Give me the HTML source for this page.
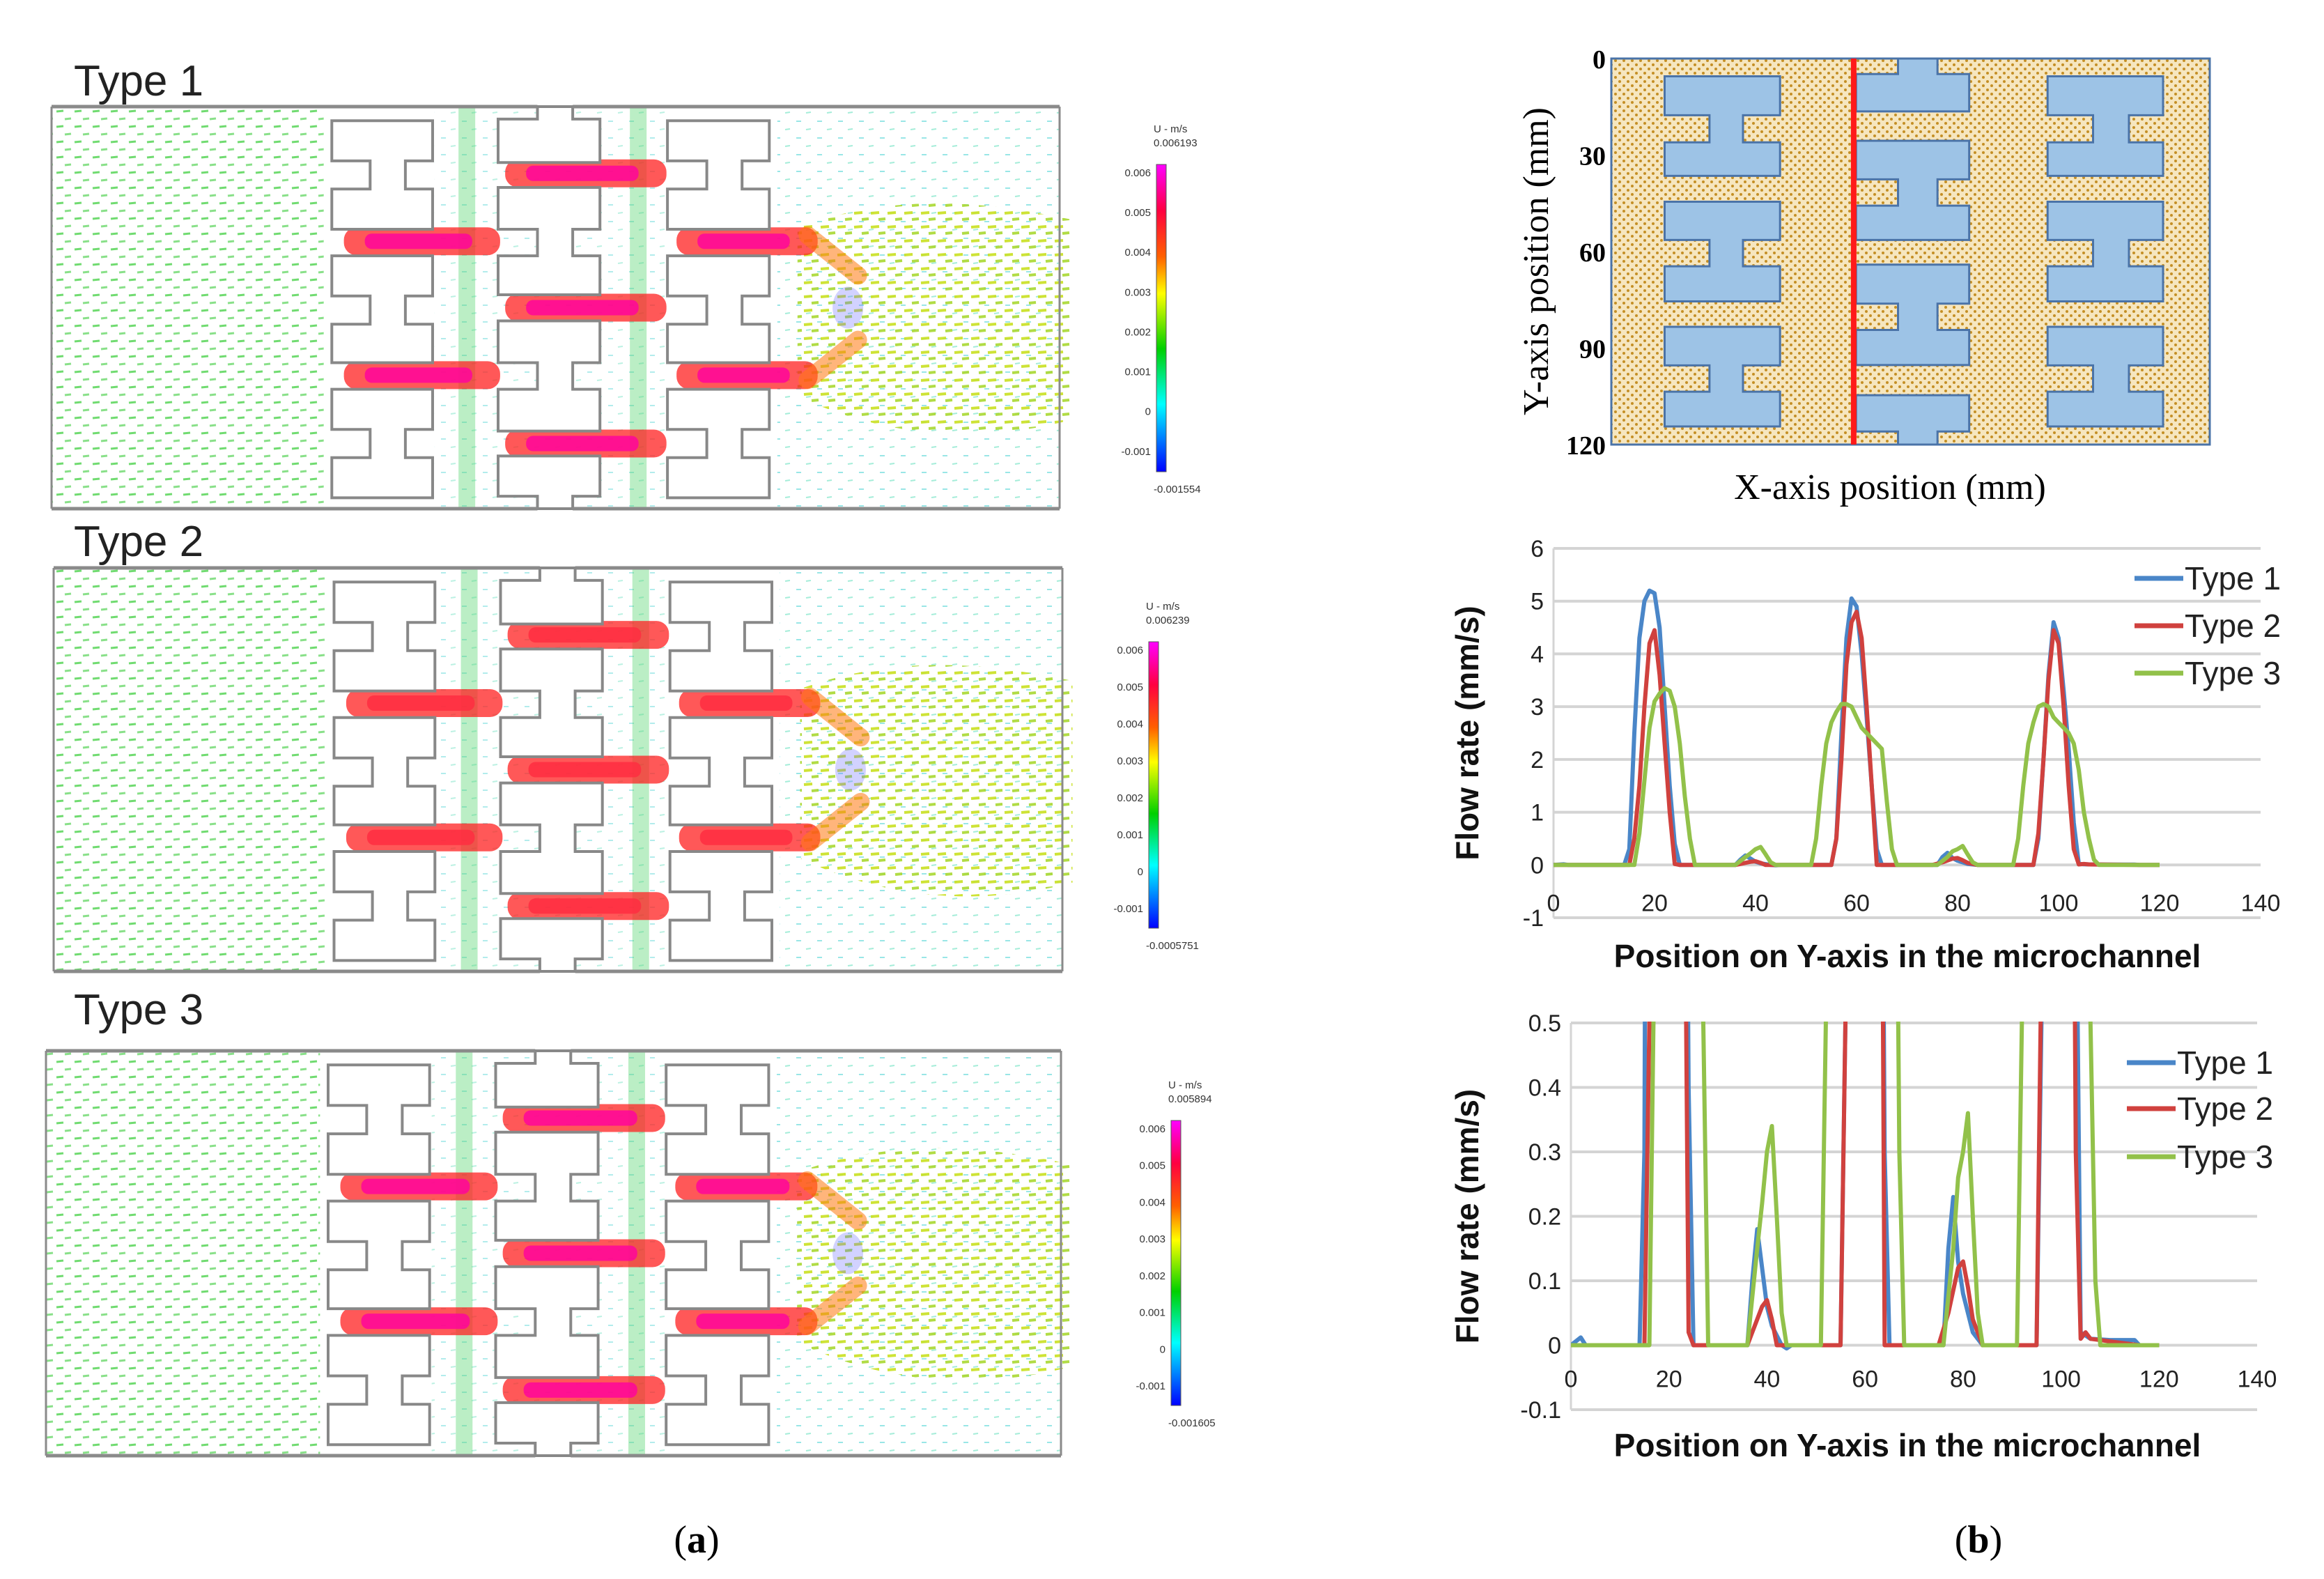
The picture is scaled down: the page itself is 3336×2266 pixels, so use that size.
<!DOCTYPE html>
<html><head><meta charset="utf-8">
<style>
html,body{margin:0;padding:0;background:#fff;}
body{width:3336px;height:2266px;position:relative;overflow:hidden;font-family:"Liberation Sans",sans-serif;}
svg{position:absolute;left:0;top:0;}
</style></head>
<body>
<svg id="root" width="3336" height="2266" viewBox="0 0 3336 2266" xmlns="http://www.w3.org/2000/svg">
<defs>
<pattern id="vec" width="26" height="22" patternUnits="userSpaceOnUse">
<line x1="3" y1="6" x2="13" y2="5" stroke="#4cd24c" stroke-width="3"/>
<line x1="15" y1="17" x2="24" y2="16" stroke="#6bd86b" stroke-width="3"/>
</pattern>
<pattern id="vecc" width="30" height="24" patternUnits="userSpaceOnUse">
<line x1="3" y1="6" x2="10" y2="6" stroke="#7fe0e0" stroke-width="2"/>
<line x1="17" y1="18" x2="24" y2="17" stroke="#8fe8d0" stroke-width="2"/>
</pattern>
<pattern id="vecy" width="24" height="20" patternUnits="userSpaceOnUse">
<line x1="2" y1="6" x2="14" y2="5" stroke="#c8e020" stroke-width="4"/>
<line x1="13" y1="15" x2="23" y2="14" stroke="#a8d830" stroke-width="4"/>
</pattern>
<pattern id="sand" width="12" height="12" patternUnits="userSpaceOnUse">
<rect width="12" height="12" fill="#f6e6bf"/>
<circle cx="3" cy="3" r="2" fill="#c48f25"/>
<circle cx="9" cy="9" r="2" fill="#c48f25"/>
</pattern>
<linearGradient id="cbar" x1="0" y1="0" x2="0" y2="1">
<stop offset="0" stop-color="#ff00ff"/><stop offset="0.15" stop-color="#ff0040"/>
<stop offset="0.3" stop-color="#ff6000"/><stop offset="0.42" stop-color="#ffff00"/>
<stop offset="0.6" stop-color="#00d000"/><stop offset="0.78" stop-color="#00ffff"/>
<stop offset="1" stop-color="#0000ff"/>
</linearGradient>
<clipPath id="clip2"><rect x="2255" y="1466" width="990" height="560"/></clipPath>
</defs>
<g id="left"></g>
<g id="schem"></g>
<g id="chart1"></g>
<g id="chart2"></g>
<text x="1000" y="2228" font-family="Liberation Serif,serif" font-size="56" text-anchor="middle">(<tspan font-weight="bold">a</tspan>)</text>
<text x="2840" y="2228" font-family="Liberation Serif,serif" font-size="56" text-anchor="middle">(<tspan font-weight="bold">b</tspan>)</text>
</svg>
<script>
const NS="http://www.w3.org/2000/svg";
function mk(parent,tag,attrs,text){const e=document.createElementNS(NS,tag);for(const k in attrs)e.setAttribute(k,attrs[k]);if(text!==undefined)e.textContent=text;parent.appendChild(e);return e;}

// ---- chart data (x = position on Y-axis, mm; y = flow rate, mm/s) ----
const xTicks=[0,20,40,60,80,100,120,140];
const yTicks1=[-1,0,1,2,3,4,5,6];
const yTicks2=[-0.1,0,0.1,0.2,0.3,0.4,0.5];
const yTickLabels2=["-0.1","0","0.1","0.2","0.3","0.4","0.5"];
const seriesNames=["Type 1","Type 2","Type 3"];
const type1X=[0,2,3,14,15,16,17,18,19,20,21,22,23,24,25,36,37,38,39,40,41,43,44,45,55,56,57,58,59,60,61,62,63,64,65,76,77,78,79,80,81,82,84,95,96,97,98,99,100,101,102,103,104,105,106,110,115,116,120];
const type1Y=[0,0.012,0,0,0.3,2.5,4.3,5.0,5.2,5.15,4.5,3.0,1.5,0.4,0,0,0.1,0.18,0.12,0.06,0.03,0,-0.005,0,0,0.5,2.5,4.3,5.05,4.9,4.0,2.8,1.5,0.3,0,0,0.15,0.23,0.13,0.08,0.05,0.02,0,0,0.5,2.0,3.6,4.6,4.3,3.3,2.2,0.8,0.02,0.015,0.01,0.008,0.008,0,0];
const type2X=[0,15,16,17,18,19,20,21,22,23,24,25,36,37,39,40,41,42,55,56,57,58,59,60,61,62,63,64,75,77,79,80,81,82,84,95,96,97,98,99,100,101,102,103,104,105,106,116,120];
const type2Y=[0,0,0.5,1.5,3.0,4.2,4.45,3.6,2.3,1.0,0.02,0,0,0.02,0.06,0.07,0.04,0,0,0.5,2.0,3.8,4.6,4.8,4.3,3.0,1.5,0,0,0.05,0.12,0.13,0.09,0.04,0,0,0.6,2.0,3.5,4.45,4.2,3.0,1.5,0.3,0.01,0.02,0.01,0,0];
const type3X=[0,16,17,18,19,20,21,22,23,24,25,26,27,28,36,38,39,40,41,42,43,44,51,52,53,54,55,56,57,58,59,60,61,62,63,64,65,66,67,68,76,78,79,80,81,82,83,84,91,92,93,94,95,96,97,98,99,100,101,102,103,104,105,106,107,108,120];
const type3Y=[0,0,0.6,1.6,2.6,3.1,3.25,3.35,3.3,3.0,2.3,1.3,0.5,0,0,0.15,0.22,0.3,0.34,0.2,0.05,0,0,0.5,1.5,2.3,2.7,2.9,3.05,3.05,3.0,2.8,2.6,2.5,2.4,2.3,2.2,1.2,0.3,0,0,0.15,0.26,0.3,0.36,0.2,0.05,0,0,0.5,1.5,2.3,2.7,3.0,3.05,3.0,2.8,2.7,2.6,2.5,2.3,1.8,1.0,0.5,0.1,0,0];
const seriesX=[type1X,type2X,type3X];
const seriesY=[type1Y,type2Y,type3Y];
const colors=["#4a86c8","#d0413e","#92c14a"];

function drawChart(g,o){
  const sx=v=>o.x0+(v-0)/(140-0)*(o.x1-o.x0);
  const sy=v=>o.yb+(v-o.ymin)/(o.ymax-o.ymin)*(o.yt-o.yb);
  o.yt_ticks.forEach((t,i)=>{
    const l=mk(g,'line',{x1:sx(0),x2:sx(140),y1:sy(t),y2:sy(t),stroke:'#d4d4d4','stroke-width':4});
    
    
    const tx=mk(g,'text',{x:sx(0)-14,y:sy(t)+12,'text-anchor':'end','font-size':34,fill:'#222'},o.yLabels[i]);
    
    
  });
  const ax=mk(g,'line',{x1:sx(0),x2:sx(0),y1:sy(o.ymin),y2:sy(o.ymax),stroke:'#d4d4d4','stroke-width':3});
  
  
  xTicks.forEach(t=>{
    const tx=mk(g,'text',{x:sx(t),y:sy(0)+o.xlabOff,'text-anchor':'middle','font-size':34,fill:'#222'},String(t));
    
    
  });
  const sg=mk(g,'g',o.clip?{'clip-path':'url(#'+o.clip+')'}:{});
  seriesNames.forEach((n,k)=>{
    const d=seriesX[k].map((x,i)=>(i?'L':'M')+sx(x).toFixed(1)+','+sy(seriesY[k][i]).toFixed(1)).join('');
    const p=mk(sg,'path',{d:d,fill:'none',stroke:colors[k],'stroke-width':6,'stroke-linejoin':'round'});
    
    
  });
  seriesNames.forEach((n,k)=>{
    const ly=o.legY[k];
    const ll=mk(g,'line',{x1:o.legX,x2:o.legX+70,y1:ly,y2:ly,stroke:colors[k],'stroke-width':7});
    
    
    const lt=mk(g,'text',{x:o.legX+72,y:ly+16,'font-size':46,fill:'#222'},n);
    
    
  });
  const yt=mk(g,'text',{x:o.ytX,y:(o.yt+o.yb)/2,'text-anchor':'middle','font-size':46,'font-weight':'bold',fill:'#111',transform:'rotate(-90 '+o.ytX+' '+((o.yt+o.yb)/2)+')','xml:space':'preserve'},'Flow  rate     (mm/s)');
  
  
  const xt=mk(g,'text',{x:o.xtX,y:o.xtY,'text-anchor':'middle','font-size':46,'font-weight':'bold',fill:'#111'},'Position on Y-axis in the microchannel');
  
  
}
drawChart(document.getElementById('chart1'),{x0:2230,x1:3245,yt:787,yb:1317,ymin:-1,ymax:6,yt_ticks:yTicks1,yLabels:yTicks1.map(String),xlabOff:66,legX:3064,legY:[830,898,966],ytX:2122,xtX:2738,xtY:1388});
drawChart(document.getElementById('chart2'),{x0:2255,x1:3240,yt:1468,yb:2023,ymin:-0.1,ymax:0.5,yt_ticks:yTicks2,yLabels:yTickLabels2,xlabOff:60,legX:3053,legY:[1525,1591,1660],ytX:2122,xtX:2738,xtY:2090,clip:'clip2'});

// ---- schematic ----
(function(){
  const g=document.getElementById('schem');
  const X0=2313,X1=3172,Y0=84,Y1=638,W=X1-X0,H=Y1-Y0;
  const r=mk(g,'rect',{x:X0,y:Y0,width:W,height:H,fill:'url(#sand)',stroke:'#4a73a8','stroke-width':3});
  
  
  function hp(x0,x1,nl,nr,y0,y1,n0,n1){return [[x0,y0],[x1,y0],[x1,n0],[nr,n0],[nr,n1],[x1,n1],[x1,y1],[x0,y1],[x0,n1],[nl,n1],[nl,n0],[x0,n0]];}
  const shapes=[];
  const rows=[[0.046,0.304,0.147,0.217],[0.371,0.629,0.470,0.538],[0.695,0.953,0.795,0.863]];
  rows.forEach(rw=>{shapes.push(hp(0.089,0.282,0.164,0.220,...rw));shapes.push(hp(0.729,0.922,0.805,0.865,...rw));});
  shapes.push([[0.479,0],[0.545,0],[0.545,0.040],[0.598,0.040],[0.598,0.137],[0.409,0.137],[0.409,0.040],[0.479,0.040]]);
  shapes.push(hp(0.409,0.598,0.479,0.545,0.213,0.470,0.313,0.381));
  shapes.push(hp(0.409,0.598,0.479,0.545,0.534,0.794,0.635,0.703));
  shapes.push([[0.409,0.872],[0.598,0.872],[0.598,0.966],[0.545,0.966],[0.545,1],[0.479,1],[0.479,0.966],[0.409,0.966]]);
  shapes.forEach(s=>{
    const p=mk(g,'polygon',{points:s.map(q=>(X0+q[0]*W).toFixed(1)+','+(Y0+q[1]*H).toFixed(1)).join(' '),fill:'#9dc3e6',stroke:'#4a73a8','stroke-width':3});
    
    
  });
  const rl=mk(g,'line',{x1:X0+0.405*W,x2:X0+0.405*W,y1:Y0,y2:Y1,stroke:'#ff1a1a','stroke-width':8});
  
  
  [0,30,60,90,120].forEach(v=>{
    const t=mk(g,'text',{x:X0-8,y:Y0+v/120*H+14,'text-anchor':'end','font-size':38,'font-weight':'bold','font-family':'Liberation Serif,serif'},String(v));
    
    
  });
  const yt=mk(g,'text',{x:2222,y:375,'text-anchor':'middle','font-size':52,'font-family':'Liberation Serif,serif',transform:'rotate(-90 2222 375)'},'Y-axis position (mm)');
  
  
  const xt=mk(g,'text',{x:2713,y:716,'text-anchor':'middle','font-size':52,'font-family':'Liberation Serif,serif'},'X-axis position (mm)');
  
  
})();

// ---- velocity field panels ----
(function(){
  const root=document.getElementById('left');
  const panels=[
    {n:'Type 1',x:74,y:153,w:1447,h:577,lx:106,ly:137,cb:[1660,236,677],vals:['0.006193','-0.001554'],jc:'#ff00a0'},
    {n:'Type 2',x:77,y:815,w:1448,h:579,lx:106,ly:798,cb:[1649,921,1332],vals:['0.006239','-0.0005751'],jc:'#ff2a40'},
    {n:'Type 3',x:66,y:1508,w:1457,h:581,lx:106,ly:1470,cb:[1681,1608,2017],vals:['0.005894','-0.001605'],jc:'#ff00a0'}
  ];
  function hp(x0,x1,nl,nr,y0,y1,n0,n1){return [[x0,y0],[x1,y0],[x1,n0],[nr,n0],[nr,n1],[x1,n1],[x1,y1],[x0,y1],[x0,n1],[nl,n1],[nl,n0],[x0,n0]];}
  panels.forEach((P,pi)=>{
    const g=mk(root,'g',{});
    
    
    const X=f=>P.x+f*P.w, Y=f=>P.y+f*P.h;
    const lab=mk(g,'text',{x:P.lx,y:P.ly,'font-size':62,fill:'#222'},P.n);
    
    
    mk(g,'rect',{x:X(0),y:Y(0),width:X(0.27)-X(0),height:P.h,fill:'url(#vec)',opacity:0.8});
    mk(g,'rect',{x:X(0.72),y:Y(0),width:X(1)-X(0.72),height:P.h,fill:'url(#vecc)',opacity:0.8});
    mk(g,'rect',{x:X(0.38),y:Y(0),width:X(0.61)-X(0.38),height:P.h,fill:'url(#vecc)',opacity:0.6});
    mk(g,'path',{d:`M${X(0.74)},${Y(0.3)} C${X(0.85)},${Y(0.2)} ${X(0.95)},${Y(0.25)} ${X(1.01)},${Y(0.28)} L${X(1.01)},${Y(0.78)} C${X(0.95)},${Y(0.82)} ${X(0.85)},${Y(0.85)} ${X(0.74)},${Y(0.72)} Z`,fill:'url(#vecy)',opacity:0.9});
    mk(g,'ellipse',{cx:X(0.79),cy:Y(0.5),rx:22,ry:30,fill:'#6a6aff',opacity:0.3});
    [0.412,0.582].forEach(f=>mk(g,'rect',{x:X(f)-12,y:Y(0),width:24,height:P.h,fill:'#3ccf5a',opacity:0.35}));
    const jets=[[0.29,0.445,0.335],[0.29,0.445,0.668],[0.62,0.76,0.335],[0.62,0.76,0.668]];
    const mid=[[0.45,0.61,0.166],[0.45,0.61,0.5],[0.45,0.61,0.838]];
    jets.concat(mid).forEach(j=>{
      const cy=Y(j[2]);
      mk(g,'rect',{x:X(j[0]),y:cy-20,width:X(j[1])-X(j[0]),height:40,rx:18,fill:'#ff2020',opacity:0.75});
      mk(g,'rect',{x:X(j[0])+30,y:cy-11,width:X(j[1])-X(j[0])-70,height:22,rx:10,fill:P.jc,opacity:0.8});
    });
    mk(g,'path',{d:`M${X(0.75)},${Y(0.32)} L${X(0.8)},${Y(0.42)}`,stroke:'#ff7a10','stroke-width':26,opacity:0.55,'stroke-linecap':'round'});
    mk(g,'path',{d:`M${X(0.75)},${Y(0.68)} L${X(0.8)},${Y(0.58)}`,stroke:'#ff7a10','stroke-width':26,opacity:0.55,'stroke-linecap':'round'});
    const rows=[[0.035,0.305,0.135,0.205],[0.371,0.637,0.471,0.541],[0.703,0.973,0.803,0.873]];
    const shapes=[];
    rows.forEach(rw=>{shapes.push(hp(0.278,0.378,0.316,0.351,...rw));shapes.push(hp(0.611,0.712,0.650,0.685,...rw));});
    shapes.push([[0.482,0],[0.517,0],[0.517,0.031],[0.544,0.031],[0.544,0.139],[0.443,0.139],[0.443,0.031],[0.482,0.031]]);
    shapes.push(hp(0.443,0.544,0.482,0.517,0.201,0.468,0.305,0.371));
    shapes.push(hp(0.443,0.544,0.482,0.517,0.533,0.807,0.637,0.703));
    shapes.push([[0.443,0.869],[0.544,0.869],[0.544,0.969],[0.517,0.969],[0.517,1],[0.482,1],[0.482,0.969],[0.443,0.969]]);
    shapes.forEach(sh=>{
      const pts=sh.map(q=>X(q[0]).toFixed(1)+','+Y(q[1]).toFixed(1)).join(' ');
      const p=mk(g,'polygon',{points:pts,fill:'#fff',stroke:'#888','stroke-width':4});
      
      
    });
    const wc='#8a8a8a';
    mk(g,'line',{x1:X(0),x2:X(0.482),y1:Y(0),y2:Y(0),stroke:wc,'stroke-width':5});
    mk(g,'line',{x1:X(0.517),x2:X(1),y1:Y(0),y2:Y(0),stroke:wc,'stroke-width':5});
    mk(g,'line',{x1:X(0),x2:X(0.482),y1:Y(1),y2:Y(1),stroke:wc,'stroke-width':5});
    mk(g,'line',{x1:X(0.517),x2:X(1),y1:Y(1),y2:Y(1),stroke:wc,'stroke-width':5});
    mk(g,'line',{x1:X(0),x2:X(0),y1:Y(0),y2:Y(1),stroke:wc,'stroke-width':3});
    mk(g,'line',{x1:X(1),x2:X(1),y1:Y(0),y2:Y(1),stroke:wc,'stroke-width':3});
    const [cx,cy0,cy1]=P.cb;
    const cb=mk(g,'rect',{x:cx,y:cy0,width:14,height:cy1-cy0,fill:'url(#cbar)',stroke:'#555','stroke-width':1});
    
    
    mk(g,'text',{x:cx-4,y:cy0-46,'font-size':15,fill:'#333'},'U - m/s');
    mk(g,'text',{x:cx-4,y:cy0-26,'font-size':15,fill:'#333'},P.vals[0]);
    mk(g,'text',{x:cx-4,y:cy1+30,'font-size':15,fill:'#333'},P.vals[1]);
    ['0.006','0.005','0.004','0.003','0.002','0.001','0','-0.001'].forEach((t,i)=>{
      const yy=cy0+12+i*(cy1-cy0-24)/7.3;
      mk(g,'text',{x:cx-8,y:yy+5,'font-size':15,'text-anchor':'end',fill:'#333'},t);
    });
  });
})();
</script>
</body></html>
